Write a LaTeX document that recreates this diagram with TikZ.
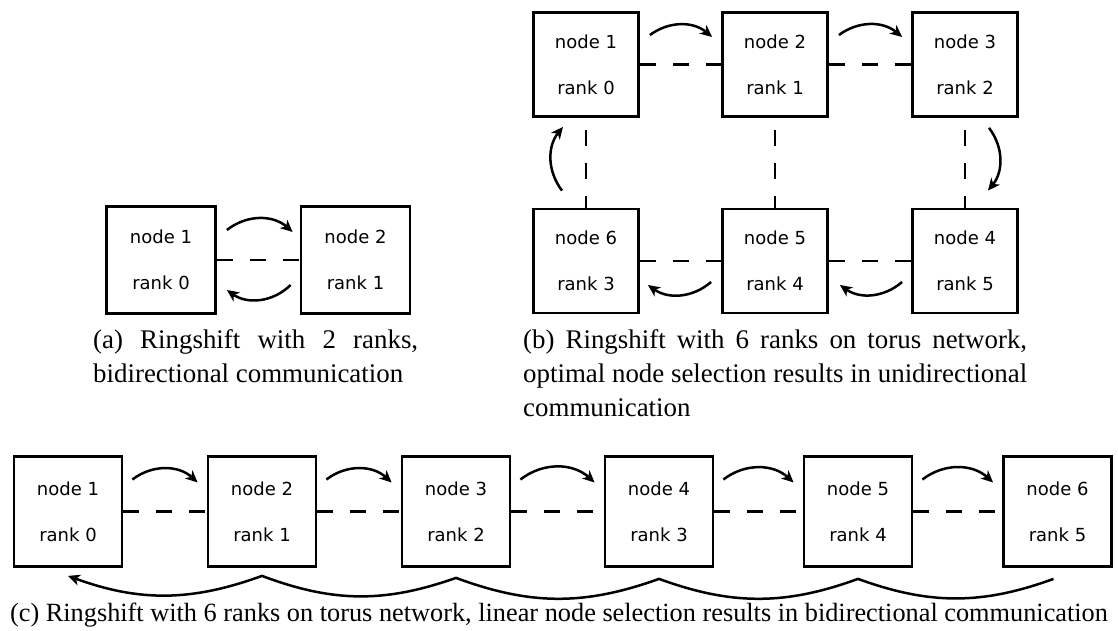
\documentclass[tikz,border=0pt]{standalone}
\usepackage{fontspec}
\setmainfont{Liberation Serif}
\newfontfamily\boxfont{DejaVu Sans}
\usetikzlibrary{arrows.meta}

\tikzset{
  box/.style={draw, line width=2.8pt, fill=white, inner sep=0pt, align=center,
    font=\boxfont\fontsize{18}{46}\selectfont},
  boxa/.style={box, minimum width=109pt, minimum height=107pt},
  boxb/.style={box, minimum width=105pt, minimum height=104pt},
  boxc/.style={box, minimum width=108pt, minimum height=110pt},
  link/.style={line width=2.8pt, dash pattern=on 16pt off 17pt},
  vlink/.style={link, dash phase=21pt},
  flow/.style={line width=2.5pt, -{Stealth[length=12pt, width=11pt, inset=3.5pt]}},
  caption/.style={inner sep=0pt, font=\fontsize{26.9}{34}\selectfont},
  widecaption/.style={inner sep=0pt, font=\fontsize{26.3}{34}\selectfont},
}

\begin{document}
\begin{tikzpicture}[x=1pt, y=1pt]
\useasboundingbox (0,0) rectangle (1118,631);

% (a) two ranks, bidirectional exchange
\node[boxa] (a1) at (161,371)   {node 1\\rank 0};
\node[boxa] (a2) at (355.5,371) {node 2\\rank 1};
\draw[link] (a1) -- (a2);
\draw[flow] ([shift={(10,30)}]a1.east) to[bend left=40] ([shift={(-7,28)}]a2.west);
\draw[flow] ([shift={(-9,-25)}]a2.west) to[bend left=40] ([shift={(10,-30)}]a1.east);
\node[caption, anchor=base west] (capa) at (93,282)
  {\parbox[t]{325pt}{(a) Ringshift with 2 ranks,\linebreak bidirectional communication}};

% (b) six ranks on a 3x2 torus
\node[boxb] (b1) at (586,566.5) {node 1\\rank 0};
\node[boxb] (b2) at (775,566.5) {node 2\\rank 1};
\node[boxb] (b3) at (965,566.5) {node 3\\rank 2};
\node[boxb] (b4) at (965,370)   {node 4\\rank 5};
\node[boxb] (b5) at (775,370)   {node 5\\rank 4};
\node[boxb] (b6) at (586,370)   {node 6\\rank 3};
\draw[link] (b1) -- (b2);
\draw[link] (b2) -- (b3);
\draw[link] (b5) -- (b4);
\draw[link] (b6) -- (b5);
\draw[vlink] (b1) -- (b6);
\draw[vlink] (b2) -- (b5);
\draw[vlink] (b3) -- (b4);
\draw[flow] ([shift={(10,29.5)}]b1.east) to[bend left=38] ([shift={(-9,27.5)}]b2.west);
\draw[flow] ([shift={(10,29.5)}]b2.east) to[bend left=38] ([shift={(-9,27.5)}]b3.west);
\draw[flow] ([shift={(24,-10)}]b3.south) to[bend left=38] ([shift={(23,17)}]b4.north);
\draw[flow] ([shift={(-9,-21)}]b4.west) to[bend left=38] ([shift={(11,-24)}]b5.east);
\draw[flow] ([shift={(-10,-21)}]b5.west) to[bend left=38] ([shift={(8,-24)}]b6.east);
\draw[flow] ([shift={(-24,17)}]b6.north) to[bend left=38] ([shift={(-23,-9)}]b1.south);
\node[caption, anchor=base west] (capb) at (523,282)
  {\parbox[t]{504pt}{(b) Ringshift with 6 ranks on torus network,\linebreak optimal node selection results in unidirectional\linebreak communication}};

% (c) six ranks placed linearly
\node[boxc] (c1) at (68,119.5)   {node 1\\rank 0};
\node[boxc] (c2) at (262,119.5)  {node 2\\rank 1};
\node[boxc] (c3) at (456,119.5)  {node 3\\rank 2};
\node[boxc] (c4) at (659,119.5)  {node 4\\rank 3};
\node[boxc] (c5) at (858,119.5)  {node 5\\rank 4};
\node[boxc] (c6) at (1057.5,119.5) {node 6\\rank 5};
\foreach \i/\j in {1/2,2/3,3/4,4/5,5/6}{
  \draw[link] (c\i) -- (c\j);
  \draw[flow] ([shift={(9,32)}]c\i.east) to[bend left=40] ([shift={(-9,29)}]c\j.west);
}
\draw[flow] ([shift={(-4,-11)}]c6.south)
  to[bend left=20] ([shift={(0,-11)}]c5.south)
  to[bend left=20] ([shift={(0,-11)}]c4.south)
  to[bend left=20] ([shift={(0,-10)}]c3.south)
  to[bend left=20] ([shift={(0,-8)}]c2.south)
  to[bend left=20] ([shift={(0,-8)}]c1.south);
\node[widecaption, anchor=base] (capc) at (559,9)
  {(c) Ringshift with 6 ranks on torus network, linear node selection results in bidirectional communication};
\end{tikzpicture}
\end{document}
